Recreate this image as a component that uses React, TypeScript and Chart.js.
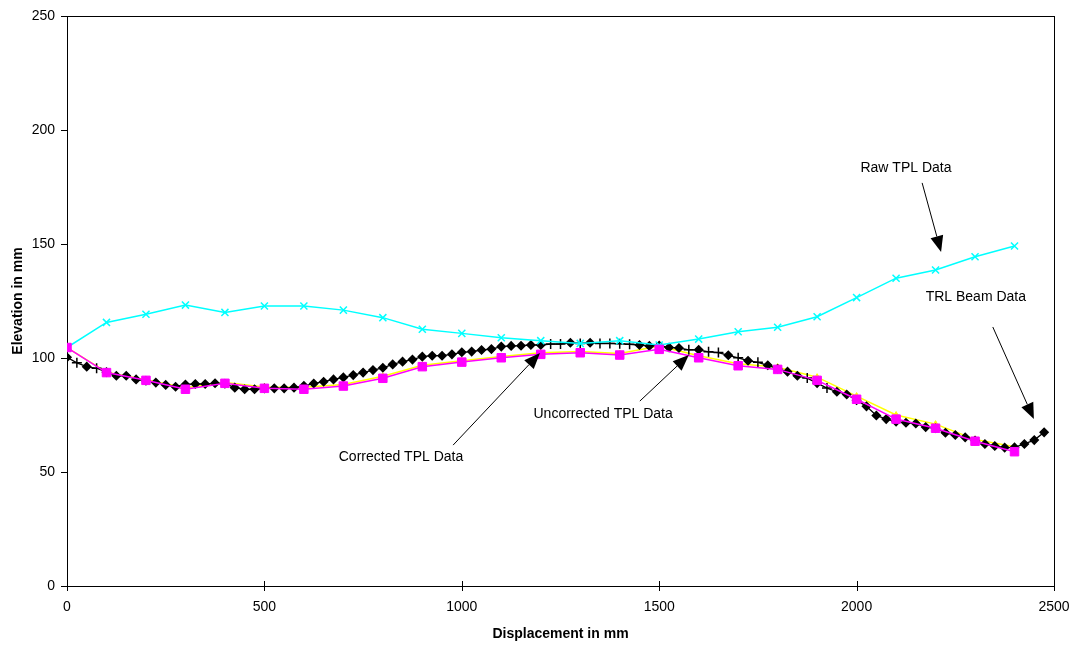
import React, { useEffect, useRef } from "react";
import { Chart, registerables } from "chart.js";

Chart.register(...registerables);

const FONT = "'Liberation Sans', Arial, Helvetica, sans-serif";

// TRL beam profile, every 25 mm
const beamX = [
  0, 25, 50, 75, 100, 125, 150, 175, 200, 225, 250, 275, 300, 325, 350, 375, 400, 425, 450, 475,
  500, 525, 550, 575, 600, 625, 650, 675, 700, 725, 750, 775, 800, 825, 850, 875, 900, 925, 950, 975,
  1000, 1025, 1050, 1075, 1100, 1125, 1150, 1175, 1200, 1225, 1250, 1275, 1300, 1325, 1350, 1375, 1400, 1425, 1450, 1475,
  1500, 1525, 1550, 1575, 1600, 1625, 1650, 1675, 1700, 1725, 1750, 1775, 1800, 1825, 1850, 1875, 1900, 1925, 1950, 1975,
  2000, 2025, 2050, 2075, 2100, 2125, 2150, 2175, 2200, 2225, 2250, 2275, 2300, 2325, 2350, 2375, 2400, 2425, 2450, 2475,
];
const beamY = [
  100.3, 97.9, 96.2, 95.5, 93.8, 92.2, 92.2, 90.6, 90.0, 89.2, 88.2, 87.4, 88.4, 88.6, 88.6, 88.9, 88.7, 87.0, 86.3, 86.3,
  86.7, 86.7, 86.7, 87.0, 87.8, 88.8, 89.6, 90.6, 91.5, 92.5, 93.6, 94.7, 95.7, 97.2, 98.4, 99.3, 100.6, 101.0, 101.0, 101.6,
  102.5, 102.8, 103.5, 103.9, 105.0, 105.3, 105.4, 105.7, 105.7, 106.1, 106.1, 106.7, 106.4, 106.7, 106.4, 106.4, 106.3, 106.0, 105.7, 105.3,
  105.5, 104.6, 104.4, 103.6, 103.6, 102.7, 102.4, 101.2, 100.1, 98.8, 98.1, 96.8, 95.3, 94.0, 92.2, 91.2, 89.0, 86.8, 85.2, 84.0,
  81.5, 78.8, 74.8, 73.2, 72.1, 71.6, 71.3, 69.7, 69.2, 67.2, 66.2, 65.2, 63.8, 62.3, 61.4, 60.7, 60.8, 62.3, 64.0, 67.4,
];
// displacements where the beam marker is a "+" rather than a diamond
const beamCrossAt = [25, 75, 1225, 1250, 1300, 1350, 1375, 1400, 1425, 1575, 1625, 1650, 1700, 1750, 1875, 1925];

// TPL readings, every 100 mm
const tplX = [
  0, 100, 200, 300, 400, 500, 600, 700, 800, 900, 1000, 1100, 1200,
  1300, 1400, 1500, 1600, 1700, 1800, 1900, 2000, 2100, 2200, 2300, 2400,
];
const correctedY = [
  104.6, 93.6, 90.2, 86.3, 88.9, 86.7, 86.3, 87.7, 91.1, 96.2, 98.2, 100.1, 101.6,
  102.3, 101.3, 103.8, 100.1, 96.6, 95.0, 90.2, 81.9, 73.2, 69.2, 63.5, 58.9,
];
const uncorrectedY = [
  104.6, 93.8, 90.5, 87.0, 89.2, 87.3, 87.2, 88.4, 92.0, 96.8, 98.8, 100.7, 102.3,
  102.9, 102.0, 105.3, 101.0, 97.5, 96.0, 91.6, 83.3, 75.0, 71.0, 64.3, 61.1,
];
const rawY = [
  104.6, 115.6, 119.2, 123.2, 120.0, 122.8, 122.8, 121.0, 117.7, 112.6, 110.8, 108.9, 107.6,
  106.4, 107.6, 105.7, 108.3, 111.5, 113.5, 118.1, 126.5, 135.0, 138.6, 144.4, 149.1,
];

const xTicks = [0, 500, 1000, 1500, 2000, 2500];
const yTicks = [0, 50, 100, 150, 200, 250];

// callouts: label centre and arrow (from -> tip), in data units
const calloutText = ["Raw TPL Data", "TRL Beam Data", "Uncorrected TPL Data", "Corrected TPL Data"];
const calloutLabelAt = [[2125, 183.3], [2302, 126.8], [1358, 75.4], [846, 56.6]];
const calloutFrom = [[2166, 176.8], [2345, 113.6], [1451, 81.1], [978, 61.8]];
const calloutTip = [[2214, 146.5], [2449, 73.2], [1575, 101.3], [1198, 102.2]];

const pts = (xs: number[], ys: number[]) => xs.map((x, i) => ({ x, y: ys[i] }));

const framePlugin = {
  id: "frame",
  beforeDatasetsDraw(chart: any) {
    const { ctx, chartArea: a, scales } = chart;
    ctx.save();
    ctx.strokeStyle = "#000";
    ctx.lineWidth = 1;
    ctx.strokeRect(Math.round(a.left) + 0.5, Math.round(a.top) + 0.5, Math.round(a.right - a.left), Math.round(a.bottom - a.top));
    ctx.beginPath();
    for (const v of xTicks) {
      const px = Math.round(scales.x.getPixelForValue(v)) + 0.5;
      ctx.moveTo(px, a.bottom - 5);
      ctx.lineTo(px, a.bottom + 5);
    }
    for (const v of yTicks) {
      const py = Math.round(scales.y.getPixelForValue(v)) + 0.5;
      ctx.moveTo(a.left - 6, py);
      ctx.lineTo(a.left, py);
    }
    ctx.stroke();
    ctx.restore();
  },
  afterDraw(chart: any) {
    const { ctx, scales } = chart;
    const X = (v: number) => scales.x.getPixelForValue(v);
    const Y = (v: number) => scales.y.getPixelForValue(v);
    ctx.save();
    ctx.fillStyle = "#000";
    ctx.strokeStyle = "#000";
    ctx.font = `14px ${FONT}`;
    ctx.textAlign = "center";
    ctx.textBaseline = "middle";
    calloutText.forEach((t, i) => {
      ctx.fillText(t, X(calloutLabelAt[i][0]), Y(calloutLabelAt[i][1]));
      const x0 = X(calloutFrom[i][0]);
      const y0 = Y(calloutFrom[i][1]);
      const x1 = X(calloutTip[i][0]);
      const y1 = Y(calloutTip[i][1]);
      const ang = Math.atan2(y1 - y0, x1 - x0);
      const headLen = 16;
      const headHalf = 6.5;
      const bx = x1 - headLen * Math.cos(ang);
      const by = y1 - headLen * Math.sin(ang);
      ctx.lineWidth = 1;
      ctx.beginPath();
      ctx.moveTo(x0, y0);
      ctx.lineTo(bx, by);
      ctx.stroke();
      ctx.beginPath();
      ctx.moveTo(x1, y1);
      ctx.lineTo(bx + headHalf * Math.sin(ang), by - headHalf * Math.cos(ang));
      ctx.lineTo(bx - headHalf * Math.sin(ang), by + headHalf * Math.cos(ang));
      ctx.closePath();
      ctx.fill();
    });
    ctx.restore();
  },
};

export default function App() {
  const ref = useRef<HTMLCanvasElement | null>(null);
  useEffect(() => {
    if (!ref.current) return;
    const beamStyles = beamX.map((x) => (beamCrossAt.includes(x) ? "cross" : "rectRot"));
    const beamRadius = beamX.map((x) => (beamCrossAt.includes(x) ? 5 : 4));
    const chart = new Chart(ref.current, {
      type: "line",
      data: {
        datasets: [
          {
            label: "Corrected TPL Data",
            data: pts(tplX, correctedY),
            borderColor: "#FF00FF",
            backgroundColor: "#FF00FF",
            borderWidth: 1.5,
            pointStyle: "rect",
            pointRadius: 6,
            pointBorderWidth: 1,
            order: 0,
          },
          {
            label: "Raw TPL Data",
            data: pts(tplX, rawY),
            borderColor: "#00FFFF",
            backgroundColor: "#00FFFF",
            borderWidth: 1.5,
            pointStyle: "crossRot",
            pointRadius: 5,
            pointBorderWidth: 1.5,
            order: 1,
          },
          {
            label: "TRL Beam Data",
            data: pts(beamX, beamY),
            borderColor: "#000000",
            backgroundColor: "#000000",
            borderWidth: 1.3,
            pointStyle: beamStyles as any,
            pointRadius: beamRadius,
            pointBorderWidth: 1.5,
            order: 2,
          },
          {
            label: "Uncorrected TPL Data",
            data: pts(tplX, uncorrectedY),
            borderColor: "#FFFF00",
            backgroundColor: "#FFFF00",
            borderWidth: 1.5,
            pointStyle: "triangle",
            pointRadius: 3.5,
            pointBorderWidth: 1,
            order: 3,
          },
        ],
      },
      options: {
        responsive: false,
        animation: false,
        devicePixelRatio: 1,
        layout: { padding: { left: 0, top: 16, right: 23, bottom: 0 } },
        plugins: { legend: { display: false }, tooltip: { enabled: false } },
        elements: { line: { tension: 0 } },
        scales: {
          x: {
            type: "linear",
            min: 0,
            max: 2500,
            afterBuildTicks: (s: any) => {
              s.ticks = xTicks.map((v) => ({ value: v }));
            },
            grid: { display: false, drawTicks: false },
            border: { display: false },
            ticks: {
              color: "#000",
              font: { size: 14, family: FONT },
              padding: 13,
              maxRotation: 0,
              autoSkip: false,
              callback: (v: any) => String(v),
            },
            title: {
              display: true,
              text: "Displacement in mm",
              color: "#000",
              font: { size: 14, weight: "bold", family: FONT },
              padding: { top: 0, bottom: 3 },
            },
            afterFit: (s: any) => {
              s.height = 60;
              s.paddingLeft = 0;
              s.paddingRight = 0;
            },
          },
          y: {
            type: "linear",
            min: 0,
            max: 250,
            afterBuildTicks: (s: any) => {
              s.ticks = yTicks.map((v) => ({ value: v }));
            },
            grid: { display: false, drawTicks: false },
            border: { display: false },
            ticks: {
              color: "#000",
              font: { size: 14, family: FONT },
              padding: 12,
              autoSkip: false,
              callback: (v: any) => String(v),
            },
            title: {
              display: true,
              text: "Elevation in mm",
              color: "#000",
              font: { size: 14, weight: "bold", family: FONT },
              padding: { top: 10, bottom: 0 },
            },
            afterFit: (s: any) => {
              s.width = 67;
              s.paddingTop = 0;
              s.paddingBottom = 0;
            },
          },
        },
      } as any,
      plugins: [framePlugin],
    });
    return () => chart.destroy();
  }, []);
  return (
    <div style={{ position: "absolute", left: 0, top: 0, width: 1077, height: 646, background: "#fff" }}>
      <canvas ref={ref} width={1077} height={646} style={{ width: 1077, height: 646, display: "block" }} />
    </div>
  );
}
